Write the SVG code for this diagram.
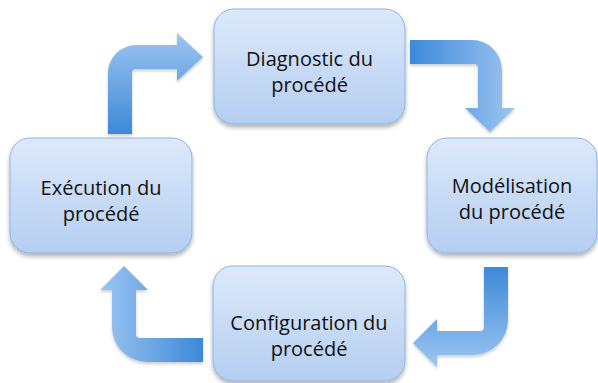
<svg xmlns="http://www.w3.org/2000/svg" width="598" height="383" viewBox="0 0 598 383">
<style>
.box{stroke:#8db3e2;stroke-width:1;fill:url(#boxg);filter:url(#sh)}
.lbl{font-family:"Open Sans","Liberation Sans",sans-serif;font-size:20px;fill:#111;text-anchor:middle}
.arr{filter:url(#sh2)}
</style>
<defs>
<linearGradient id="boxg" x1="0" y1="0" x2="0" y2="1">
<stop offset="0" stop-color="#dde9fa"/>
<stop offset="1" stop-color="#b4cef1"/>
</linearGradient>
<linearGradient id="g1" gradientUnits="userSpaceOnUse" x1="0" y1="134" x2="0" y2="33">
<stop offset="0" stop-color="#3d89d8"/>
<stop offset="1" stop-color="#9cc5f1"/>
</linearGradient>
<linearGradient id="g2" gradientUnits="userSpaceOnUse" x1="410" y1="0" x2="515" y2="0">
<stop offset="0" stop-color="#3d89d8"/>
<stop offset="1" stop-color="#9cc5f1"/>
</linearGradient>
<linearGradient id="g3" gradientUnits="userSpaceOnUse" x1="0" y1="267" x2="0" y2="367">
<stop offset="0" stop-color="#3d89d8"/>
<stop offset="1" stop-color="#9cc5f1"/>
</linearGradient>
<linearGradient id="g4" gradientUnits="userSpaceOnUse" x1="203" y1="0" x2="100" y2="0">
<stop offset="0" stop-color="#3d89d8"/>
<stop offset="1" stop-color="#9cc5f1"/>
</linearGradient>
<filter id="sh" x="-10%" y="-10%" width="125%" height="130%">
<feDropShadow dx="0" dy="3" stdDeviation="2" flood-color="#000" flood-opacity="0.3"/>
</filter>
<filter id="sh2" x="-10%" y="-10%" width="125%" height="130%">
<feDropShadow dx="0" dy="2" stdDeviation="1.5" flood-color="#000" flood-opacity="0.2"/>
</filter>
</defs>
<g id="connectors">
<path class="arr" fill="url(#g1)" d="M108,134 L108,73 A28,28 0 0 1 136,45 L177,45 L177,33 L203,57 L177,81 L177,69 L136,69 A4,4 0 0 0 132,73 L132,134 Z"/>
<path class="arr" fill="url(#g2)" d="M410,40 L472,40 A30,30 0 0 1 502,70 L502,108 L515,108 L490,132 L465,108 L478,108 L478,68 A4,4 0 0 0 474,64 L410,64 Z"/>
<path class="arr" fill="url(#g3)" d="M484,267 L508,267 L508,320 A35,35 0 0 1 473,355 L437,355 L437,367 L413,343 L437,319 L437,331 L480,331 A4,4 0 0 0 484,327 Z"/>
<path class="arr" fill="url(#g4)" d="M203,338 L203,362 L147,362 A35,35 0 0 1 112,327 L112,290 L100,290 L124,266 L148,290 L136,290 L136,334 A4,4 0 0 0 140,338 Z"/>
</g>
<g id="diagnostic">
<rect class="box" x="214" y="9" width="191" height="115" rx="20"/>
<text class="lbl" x="309.5" y="66">Diagnostic du</text>
<text class="lbl" x="309.5" y="91.5">procédé</text>
</g>
<g id="modelisation">
<rect class="box" x="427" y="138" width="170" height="115" rx="20"/>
<text class="lbl" x="512" y="193">Modélisation</text>
<text class="lbl" x="512" y="218.5">du procédé</text>
</g>
<g id="configuration">
<rect class="box" x="213" y="266" width="192" height="115" rx="20"/>
<text class="lbl" x="309" y="330">Configuration du</text>
<text class="lbl" x="309" y="355.5">procédé</text>
</g>
<g id="execution">
<rect class="box" x="10" y="138" width="182" height="115" rx="20"/>
<text class="lbl" x="101" y="195">Exécution du</text>
<text class="lbl" x="101" y="220.5">procédé</text>
</g>
</svg>
